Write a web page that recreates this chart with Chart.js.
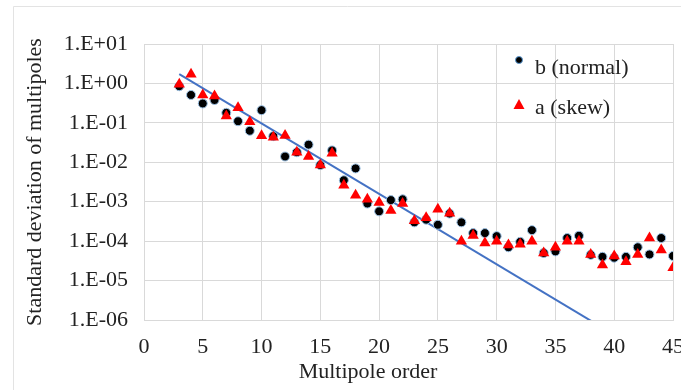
<!DOCTYPE html>
<html>
<head>
<meta charset="utf-8">
<script src="https://cdn.jsdelivr.net/npm/chart.js@4.4.1/dist/chart.umd.min.js"></script>
<style>
  html, body { margin: 0; padding: 0; background: #fff; }
  #wrap { width: 681px; height: 390px; position: relative; }
</style>
</head>
<body>
<div id="wrap"><canvas id="multipoles"></canvas></div>
<script>
// multipole orders 3..45
var orders = [3, 4, 5, 6, 7, 8, 9, 10, 11, 12, 13, 14, 15, 16, 17, 18, 19, 20, 21, 22, 23, 24,
              25, 26, 27, 28, 29, 30, 31, 32, 33, 34, 35, 36, 37, 38, 39, 40, 41, 42, 43, 44, 45];

// b (normal)
var normalB = [0.85, 0.51, 0.31, 0.38, 0.18, 0.11, 0.063, 0.21, 0.046, 0.014, 0.018, 0.028,
               0.0085, 0.02, 0.0035, 0.007, 0.0009, 0.00057, 0.0011, 0.00115, 0.0003, 0.00035,
               0.00026, 0.0005, 0.0003, 0.00016, 0.00016, 0.000134, 0.00007, 0.000096, 0.00019,
               0.00005, 0.000055, 0.00012, 0.000137, 0.000045, 0.00004, 0.000038, 0.00004,
               0.00007, 0.000046, 0.00012, 0.000042];

// a (skew)
var skewA = [0.95, 1.7, 0.51, 0.48, 0.15, 0.24, 0.107, 0.047, 0.043, 0.048, 0.018, 0.014,
             0.0085, 0.017, 0.0026, 0.00145, 0.00115, 0.00095, 0.0006, 0.0009, 0.00033, 0.00039,
             0.00064, 0.00051, 0.0001, 0.00014, 0.00009, 0.0001, 0.00008, 0.000084, 0.0001,
             0.00005, 0.00007, 0.0001, 0.0001, 0.000046, 0.000025, 0.000042, 0.00003,
             0.000046, 0.00012, 0.00006, 0.000021];

// exponential trend (straight on the log axis)
var trendX = [3, 45];
var trendY = [1.73, 5.4e-8];

// y axis decades
var yTicks = [10, 1, 0.1, 0.01, 0.001, 0.0001, 0.00001, 0.000001];

var xTitle = 'Multipole order';
var yTitle = 'Standard deviation of multipoles';

function pairs(xs, ys) {
    return xs.map(function (x, i) { return { x: x, y: ys[i] }; });
}

function sci(v) {
    var e = Math.round(Math.log10(v));
    var s = e < 0 ? '-' : '+';
    var a = Math.abs(e);
    return '1.E' + s + (a < 10 ? '0' + a : a);
}

var serif = "'Liberation Serif', 'Times New Roman', serif";
var textColor = '#222';

// legend drawn inside the plot, top right
var insideLegend = {
    id: 'insideLegend',
    afterDatasetsDraw: function (chart) {
        var ctx = chart.ctx;
        var area = chart.chartArea;
        var x = area.left + 375;
        ctx.save();
        ctx.font = '22px ' + serif;
        ctx.textBaseline = 'middle';

        // dot
        ctx.beginPath();
        ctx.arc(x, 60, 3.5, 0, Math.PI * 2);
        ctx.fillStyle = '#000';
        ctx.fill();
        ctx.lineWidth = 1;
        ctx.strokeStyle = '#5b9bd5';
        ctx.stroke();
        ctx.fillStyle = textColor;
        ctx.fillText(chart.data.datasets[1].label, x + 16, 68);

        // triangle
        ctx.beginPath();
        ctx.moveTo(x, 99);
        ctx.lineTo(x + 5.5, 109);
        ctx.lineTo(x - 5.5, 109);
        ctx.closePath();
        ctx.fillStyle = '#ff0000';
        ctx.fill();
        ctx.fillStyle = textColor;
        ctx.fillText(chart.data.datasets[0].label, x + 16, 108);
        ctx.restore();
    }
};

// x title, light frame round the chart
var frame = {
    id: 'frame',
    beforeDraw: function (chart) {
        var ctx = chart.ctx;
        ctx.save();
        ctx.strokeStyle = '#e3e3e3';
        ctx.lineWidth = 1;
        ctx.beginPath();
        ctx.moveTo(13.5, 400);
        ctx.lineTo(13.5, 6.5);
        ctx.lineTo(700, 6.5);
        ctx.stroke();
        ctx.restore();
    },
    afterDraw: function (chart) {
        var ctx = chart.ctx;
        ctx.save();
        ctx.font = '22px ' + serif;
        ctx.fillStyle = textColor;
        ctx.textAlign = 'center';
        ctx.textBaseline = 'middle';
        ctx.fillText(xTitle, 368, chart.chartArea.bottom + 52);
        ctx.restore();
    }
};

var ctx = document.getElementById('multipoles').getContext('2d');
var chart = new Chart(ctx, {
    type: 'scatter',
    data: {
        datasets: [{
            label: 'a (skew)',
            data: pairs(orders, skewA),
            pointStyle: 'triangle',
            pointRadius: 6.5,
            pointHoverRadius: 6.5,
            backgroundColor: '#ff0000',
            borderColor: '#ff0000',
            borderWidth: 0,
            order: 0
        }, {
            label: 'b (normal)',
            data: pairs(orders, normalB),
            pointStyle: 'circle',
            pointRadius: 4.5,
            pointHoverRadius: 4.5,
            backgroundColor: '#000000',
            borderColor: '#9dc3e6',
            borderWidth: 1,
            order: 1
        }, {
            type: 'line',
            label: 'trend',
            data: pairs(trendX, trendY),
            borderColor: '#4472c4',
            borderWidth: 2,
            pointRadius: 0,
            fill: false,
            order: 2
        }]
    },
    options: {
        responsive: true,
        maintainAspectRatio: false,
        animation: false,
        layout: {
            padding: { left: 22, right: 8, top: 44, bottom: 30 }
        },
        plugins: {
            legend: { display: false },
            tooltip: { enabled: false }
        },
        scales: {
            x: {
                type: 'linear',
                min: 0,
                max: 45,
                afterFit: function (axis) {
                    // let the last label run off the edge
                    axis.paddingRight = 0;
                    axis.height = 40;
                },
                ticks: {
                    stepSize: 5,
                    padding: 14,
                    color: textColor,
                    font: { family: serif, size: 22 }
                },
                grid: { color: '#d9d9d9', drawTicks: false },
                border: { color: '#d9d9d9' }
            },
            y: {
                type: 'logarithmic',
                min: 1e-6,
                max: 10,
                afterBuildTicks: function (axis) {
                    axis.ticks = yTicks.map(function (v) { return { value: v }; });
                },
                afterFit: function (axis) {
                    axis.width = 122;
                },
                ticks: {
                    padding: 16,
                    color: textColor,
                    font: { family: serif, size: 22 },
                    callback: function (v) { return sci(v); }
                },
                grid: { color: '#d9d9d9', drawTicks: false },
                border: { color: '#d9d9d9' },
                title: {
                    display: true,
                    text: yTitle,
                    color: textColor,
                    font: { family: serif, size: 22 },
                    padding: { top: 0, bottom: 14 }
                }
            }
        }
    },
    plugins: [frame, insideLegend]
});
</script>
</body>
</html>
